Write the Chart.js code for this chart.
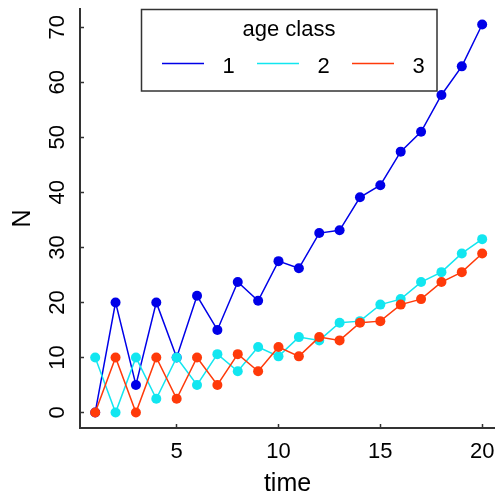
<!DOCTYPE html>
<html>
<head>
<meta charset="utf-8">
<script src="https://cdn.jsdelivr.net/npm/chart.js@4.4.1/dist/chart.umd.min.js"></script>
<style>
  html, body { margin: 0; padding: 0; background: #fff; overflow: hidden; }
  canvas { display: block; }
</style>
</head>
<body>
<canvas id="chart" width="495" height="497"></canvas>
<script>
// values
const time = [1, 2, 3, 4, 5, 6, 7, 8, 9, 10, 11, 12, 13, 14, 15, 16, 17, 18, 19, 20];
const class1 = [0, 20, 5, 20, 10, 21.2, 15, 23.7, 20.3, 27.5, 26.2, 32.6, 33.1, 39.1, 41.3, 47.4, 51, 57.7, 62.9, 70.5];
const class2 = [10, 0, 10, 2.5, 10, 5, 10.6, 7.5, 11.9, 10.2, 13.7, 13.1, 16.3, 16.6, 19.6, 20.6, 23.7, 25.5, 28.9, 31.5];
const class3 = [0, 10, 0, 10, 2.5, 10, 5, 10.6, 7.5, 11.9, 10.2, 13.7, 13.1, 16.3, 16.6, 19.6, 20.6, 23.7, 25.5, 28.9];
const seriesNames = ['1', '2', '3'];
const xTicks = [5, 10, 15, 20];
const yTicks = [0, 10, 20, 30, 40, 50, 60, 70];

const FONT = '"Liberation Sans", Arial, sans-serif';
const colors = ['#0000e8', '#12e6f0', '#ff3a0a'];
const axisColor = '#333333';

function series(values, i) {
    return {
        label: seriesNames[i],
        data: values.map((v, k) => ({ x: time[k], y: v })),
        borderColor: colors[i],
        backgroundColor: colors[i],
        borderWidth: 1.5,
        pointRadius: 5,
        pointBorderWidth: 0,
        pointBackgroundColor: colors[i],
        tension: 0,
        clip: false,
        order: 3 - i
    };
}

// no extra room for overhanging tick labels
function noPad(s) {
    s.paddingLeft = 0;
    s.paddingRight = 0;
    s.paddingTop = 0;
    s.paddingBottom = 0;
}

// R-style boxed legend with a title, entries side by side
const boxLegend = {
    id: 'boxLegend',
    afterDraw(chart) {
        const ctx = chart.ctx;
        ctx.save();
        ctx.strokeStyle = axisColor;
        ctx.lineWidth = 1.5;
        ctx.strokeRect(141.5, 9.5, 295.5, 81.5);

        ctx.fillStyle = '#000';
        ctx.font = '22px ' + FONT;
        ctx.textAlign = 'center';
        ctx.textBaseline = 'alphabetic';
        ctx.fillText('age class', 289, 36);

        const lineX = [162, 257, 352];
        const labelX = [228.5, 323.5, 418.5];
        chart.data.datasets.forEach((ds, i) => {
            ctx.strokeStyle = ds.borderColor;
            ctx.lineWidth = 1.5;
            ctx.beginPath();
            ctx.moveTo(lineX[i], 63.5);
            ctx.lineTo(lineX[i] + 42, 63.5);
            ctx.stroke();
            ctx.fillStyle = '#000';
            ctx.fillText(ds.label, labelX[i], 72.5);
        });
        ctx.restore();
    }
};

new Chart(document.getElementById('chart'), {
    type: 'line',
    data: {
        datasets: [series(class1, 0), series(class2, 1), series(class3, 2)]
    },
    options: {
        responsive: false,
        animation: false,
        layout: { autoPadding: false, padding: { top: 9, right: 0, bottom: 0, left: 0 } },
        plugins: {
            legend: { display: false },
            tooltip: { enabled: false }
        },
        scales: {
            x: {
                type: 'linear',
                min: 0.254,
                max: 20.63,
                afterBuildTicks: s => { s.ticks = xTicks.map(v => ({ value: v })); },
                afterFit: s => { s.height = 69; noPad(s); },
                border: { display: true, color: axisColor, width: 2 },
                grid: { drawOnChartArea: false, drawTicks: true, tickLength: -4, tickWidth: 1.5, color: axisColor },
                ticks: {
                    autoSkip: false,
                    maxRotation: 0,
                    padding: 14.5,
                    color: '#000',
                    font: { family: FONT, size: 22 },
                    callback: v => String(v)
                },
                title: {
                    display: true,
                    text: 'time',
                    color: '#000',
                    font: { family: FONT, size: 25, lineHeight: 1 },
                    padding: { top: 0, bottom: 0.5 }
                }
            },
            y: {
                type: 'linear',
                min: -2.82,
                max: 73.32,
                afterBuildTicks: s => { s.ticks = yTicks.map(v => ({ value: v })); },
                afterFit: s => { s.width = 80; noPad(s); },
                border: { display: true, color: axisColor, width: 2 },
                grid: { drawOnChartArea: false, drawTicks: true, tickLength: -4, tickWidth: 1.5, color: axisColor },
                ticks: {
                    autoSkip: false,
                    minRotation: 90,
                    maxRotation: 90,
                    crossAlign: 'center',
                    padding: 14,
                    color: '#000',
                    font: { family: FONT, size: 22 },
                    callback: v => String(v)
                },
                title: {
                    display: true,
                    text: 'N',
                    color: '#000',
                    font: { family: FONT, size: 25, lineHeight: 1 },
                    padding: { top: 10.7, bottom: 0 }
                }
            }
        }
    },
    plugins: [boxLegend]
});
</script>
</body>
</html>
